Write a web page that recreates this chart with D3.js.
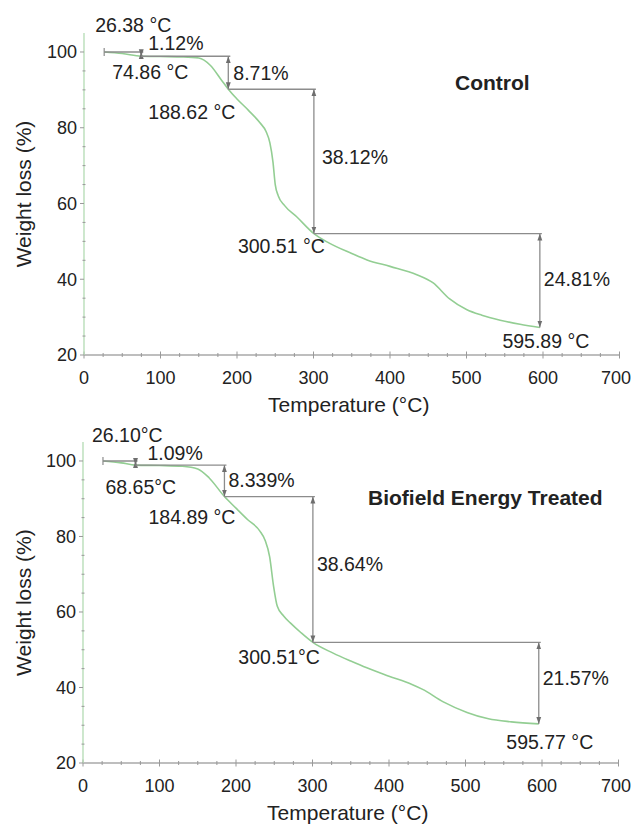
<!DOCTYPE html>
<html>
<head>
<meta charset="utf-8">
<script src="https://cdn.jsdelivr.net/npm/d3@7"></script>
<style>
  html, body { margin: 0; padding: 0; background: #fff; }
  svg { display: block; }
  text { font-family: "Liberation Sans", Arial, sans-serif; fill: #222; }
</style>
</head>
<body>
<svg id="chart" width="633" height="826"></svg>
<script>
// ---------------- data ----------------
const xTicks = [0, 100, 200, 300, 400, 500, 600, 700];
const yTicks = [20, 40, 60, 80, 100];
const xLabel = "Temperature (°C)";
const yLabel = "Weight loss (%)";

// Control TGA curve
const controlT = [26.38, 50, 74.86, 100, 130, 150, 165, 180, 188.62, 200, 215, 230, 238, 243, 247, 250, 254, 262, 278, 300.51, 320, 350, 370, 400, 435, 456, 478, 500, 520, 544, 570, 595.89];
const controlW = [100, 99.6, 98.88, 98.8, 98.7, 98.4, 96.5, 92.5, 90.17, 87.6, 84.6, 81.3, 79, 76, 71, 65, 62, 59.5, 56.5, 52.05, 49.6, 46.8, 45.1, 43.4, 41.2, 39.1, 34.8, 32, 30.5, 29.2, 28.1, 27.24];
const controlStepT = [26.38, 74.86, 188.62, 300.51, 595.89];
const controlLoss = [1.12, 8.71, 38.12, 24.81];
const controlTempLabels = ["26.38 °C", "74.86 °C", "188.62 °C", "300.51 °C", "595.89 °C"];
const controlLossLabels = ["1.12%", "8.71%", "38.12%", "24.81%"];
const controlTitle = "Control";

// Biofield Energy Treated TGA curve
const treatedT = [26.10, 50, 68.65, 100, 130, 150, 165, 184.89, 200, 215, 231, 238, 244, 249, 254, 262, 271, 285, 300.51, 327, 350, 371, 400, 430, 444, 471, 502, 530, 560, 595.77];
const treatedW = [100, 99.5, 98.91, 98.8, 98.6, 97.9, 95.5, 90.57, 87.5, 84.5, 81.5, 79, 74.6, 67, 61.5, 59, 57.1, 54.5, 51.93, 49.1, 47, 45.2, 43, 40.8, 39.5, 36.2, 33.4, 31.7, 30.9, 30.36];
const treatedStepT = [26.10, 68.65, 184.89, 300.51, 595.77];
const treatedLoss = [1.09, 8.339, 38.64, 21.57];
const treatedTempLabels = ["26.10°C", "68.65°C", "184.89 °C", "300.51°C", "595.77 °C"];
const treatedLossLabels = ["1.09%", "8.339%", "38.64%", "21.57%"];
const treatedTitle = "Biofield Energy Treated";

// ---------------- layout ----------------
const W_PAGE = 633;
const panels = [
  {
    T: controlT, W: controlW, stepT: controlStepT, loss: controlLoss,
    tempLabels: controlTempLabels, lossLabels: controlLossLabels, title: controlTitle,
    xRange: [84, 619.5], yRange: [355, 33.06],
    titlePos: [455, 83],
    tempOff: [["start", -9, -27], ["start", -29, 16], ["end", 7, 23], ["end", 11, 13], ["middle", 6, 14]],
    lossOff: [[7, -11], [5, 0], [8, -4], [4, -1]]
  },
  {
    T: treatedT, W: treatedW, stepT: treatedStepT, loss: treatedLoss,
    tempLabels: treatedTempLabels, lossLabels: treatedLossLabels, title: treatedTitle,
    xRange: [83, 618.5], yRange: [763, 442.1],
    titlePos: [368, 498],
    tempOff: [["start", -11, -26], ["start", -30, 22], ["end", 11, 21], ["end", 7, 15], ["middle", 11, 18]],
    lossOff: [[12, -10], [4, -1], [4, -5], [4, -5]]
  }
];

const svg = d3.select("#chart");
const defs = svg.append("defs");
defs.append("marker")
  .attr("id", "arr")
  .attr("viewBox", "0 0 10 10")
  .attr("refX", 10).attr("refY", 5)
  .attr("markerWidth", 7).attr("markerHeight", 7)
  .attr("markerUnits", "userSpaceOnUse")
  .attr("orient", "auto-start-reverse")
  .append("path").attr("d", "M0,1.5 L10,5 L0,8.5 Z").attr("fill", "#6e6e6e");

const annColor = "#8c8c8c";
const curveColor = "#93ce93";

panels.forEach(p => {
  const x = d3.scaleLinear().domain([0, 700]).range(p.xRange);
  const y = d3.scaleLinear().domain([20, 105]).range(p.yRange);
  const g = svg.append("g");
  const y0 = y(20);

  // x axis line & ticks
  g.append("line").attr("x1", x(0)).attr("x2", x(700)).attr("y1", y0).attr("y2", y0)
    .attr("stroke", "#a8a8a8").attr("stroke-width", 1.3);
  const xMinor = d3.range(0, 701, 25);
  g.selectAll(".xm").data(xMinor).enter().append("line")
    .attr("x1", d => x(d)).attr("x2", d => x(d))
    .attr("y1", d => y0 - (d % 100 === 0 ? 3.5 : 2))
    .attr("y2", d => y0 + (d % 100 === 0 ? 3.5 : 2))
    .attr("stroke", "#999").attr("stroke-width", 1);
  g.selectAll(".xl").data(xTicks).enter().append("text")
    .attr("x", d => Math.min(x(d), W_PAGE - 17))
    .attr("y", y0 + 29)
    .attr("text-anchor", "middle").attr("font-size", 18).text(d => d);

  // y axis line & ticks
  g.append("line").attr("x1", x(0)).attr("x2", x(0)).attr("y1", y(20)).attr("y2", y(105))
    .attr("stroke", "#b3dbb3").attr("stroke-width", 1.3);
  const yMinor = d3.range(20, 101, 5);
  g.selectAll(".ym").data(yMinor).enter().append("line")
    .attr("x1", d => x(0) - (d % 20 === 0 ? 4 : 1.5))
    .attr("x2", d => x(0) + (d % 20 === 0 ? 0 : 1.5))
    .attr("y1", d => y(d)).attr("y2", d => y(d))
    .attr("stroke", "#999").attr("stroke-width", 1);
  g.selectAll(".yl").data(yTicks).enter().append("text")
    .attr("x", x(0) - 7).attr("y", d => y(d)).attr("dy", "0.35em")
    .attr("text-anchor", "end").attr("font-size", 18).text(d => d);

  // axis titles
  g.append("text").attr("x", (p.xRange[0] + p.xRange[1]) / 2 - 3).attr("y", y0 + 57)
    .attr("text-anchor", "middle").attr("font-size", 21).text(xLabel);
  const ymid = (y(20) + y(105)) / 2;
  g.append("text").attr("transform", `translate(31,${ymid}) rotate(-90)`)
    .attr("text-anchor", "middle").attr("font-size", 21).text(yLabel);

  // curve
  const pts = p.T.map((t, i) => [t, p.W[i]]);
  g.append("path").datum(pts)
    .attr("d", d3.line().x(d => x(d[0])).y(d => y(d[1])).curve(d3.curveMonotoneX))
    .attr("fill", "none").attr("stroke", curveColor).attr("stroke-width", 1.6);

  // step levels
  const levels = [100];
  p.loss.forEach((l, i) => levels.push(levels[i] - l));

  // start marker
  g.append("line").attr("x1", x(p.stepT[0])).attr("x2", x(p.stepT[0]))
    .attr("y1", y(levels[0]) - 4).attr("y2", y(levels[0]) + 4)
    .attr("stroke", annColor).attr("stroke-width", 1.2);

  p.loss.forEach((l, i) => {
    const xa = x(p.stepT[i]), xb = x(p.stepT[i + 1]);
    const ya = y(levels[i]), yb = y(levels[i + 1]);
    g.append("line").attr("x1", xa).attr("x2", xb + 2).attr("y1", ya).attr("y2", ya)
      .attr("stroke", annColor).attr("stroke-width", 1.3);
    g.append("line").attr("x1", xb).attr("x2", xb).attr("y1", ya).attr("y2", yb)
      .attr("stroke", annColor).attr("stroke-width", 1.3)
      .attr("marker-start", "url(#arr)").attr("marker-end", "url(#arr)");
    const o = p.lossOff[i];
    g.append("text").attr("x", xb + o[0]).attr("y", (ya + yb) / 2 + o[1]).attr("dy", "0.35em")
      .attr("text-anchor", "start").attr("font-size", 19.5).text(p.lossLabels[i]);
  });

  p.stepT.forEach((t, i) => {
    const o = p.tempOff[i];
    g.append("text").attr("x", x(t) + o[1]).attr("y", y(levels[i]) + o[2]).attr("dy", "0.35em")
      .attr("text-anchor", o[0]).attr("font-size", 19.5).text(p.tempLabels[i]);
  });

  // title
  g.append("text").attr("x", p.titlePos[0]).attr("y", p.titlePos[1]).attr("dy", "0.35em")
    .attr("font-size", 21).attr("font-weight", "bold").text(p.title);
});
</script>
</body>
</html>
